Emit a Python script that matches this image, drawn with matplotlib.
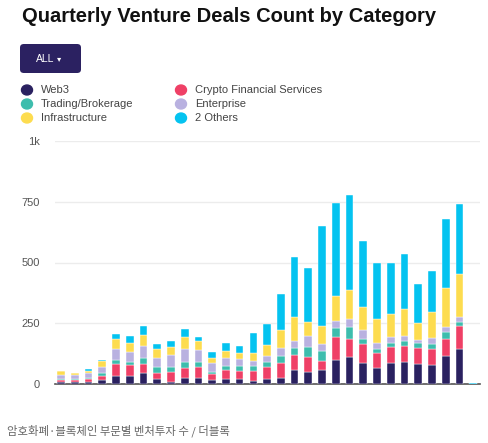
import numpy as np
import matplotlib.pyplot as plt
from matplotlib.patches import FancyBboxPatch

plt.rcParams["font.family"] = ["Liberation Sans", "DejaVu Sans"]

# quarterly deal counts per category
web3 = [8, 8, 10, 15, 34, 34, 44, 19, 10, 23, 26, 15, 19, 19, 11, 21, 23, 58, 49, 57,
        100, 113, 87, 64, 87, 91, 82, 77, 115, 144, 0]
crypto_fin = [8, 7, 10, 16, 47, 43, 38, 25, 40, 41, 43, 26, 38, 33, 41, 48, 63, 62, 63, 37,
              92, 74, 76, 65, 67, 65, 67, 67, 71, 93, 0]
trading = [4, 4, 5, 16, 18, 12, 25, 25, 19, 25, 21, 10, 19, 22, 23, 21, 29, 30, 41, 43,
           37, 47, 24, 14, 16, 23, 19, 22, 27, 19, 0]
enterprise = [19, 19, 20, 22, 45, 43, 51, 38, 51, 55, 51, 36, 32, 29, 19, 26, 34, 25, 43, 28,
              30, 33, 35, 24, 25, 18, 12, 25, 23, 19, 0]
infra = [14, 8, 10, 25, 40, 38, 43, 37, 34, 48, 34, 22, 29, 26, 34, 43, 73, 99, 58, 74,
         102, 118, 96, 100, 93, 113, 69, 106, 159, 176, 0]
others = [2, 1, 8, 4, 22, 29, 36, 19, 22, 34, 18, 22, 30, 27, 82, 88, 147, 247, 222, 412,
          382, 393, 269, 231, 209, 223, 161, 169, 286, 290, 4]

series = [
    ("Web3", web3, "#2a2160"),
    ("Crypto Financial Services", crypto_fin, "#ef4066"),
    ("Trading/Brokerage", trading, "#3dbdad"),
    ("Enterprise", enterprise, "#b9b1e0"),
    ("Infrastructure", infra, "#fddc4f"),
    ("2 Others", others, "#04c3f0"),
]

fig = plt.figure(figsize=(4.89, 4.43), dpi=100)
ax = fig.add_axes([55 / 489, 59 / 443, 425 / 489, 243 / 443])

x = np.arange(len(web3))
bottom = np.zeros(len(web3))
for name, vals, col in series:
    vals = np.array(vals)
    ax.bar(x, vals, 0.56, bottom=bottom, color=col, edgecolor="#ffffff",
           linewidth=0.3, zorder=3)
    bottom += vals

ax.set_xlim(-0.44, 30.5)
ax.set_ylim(0, 1000)
ax.set_yticks([0, 250, 500, 750, 1000])
ax.set_yticklabels(["0", "250", "500", "750", "1k"])
ax.set_xticks([])
ax.grid(axis="y", color="#ececec", linewidth=1, zorder=0)
for s in ["top", "right", "left"]:
    ax.spines[s].set_visible(False)
ax.spines["bottom"].set_color("#555555")
ax.spines["bottom"].set_linewidth(1.2)
ax.tick_params(axis="y", length=0, pad=11, labelsize=8, labelcolor="#555555")

# title
fig.text(22 / 489, 1 - 17 / 443, "Quarterly Venture Deals Count by Category",
         fontsize=14.5, fontweight="bold", color="#111111", va="center", ha="left")

# ALL button
btn = FancyBboxPatch((20 / 489, 1 - 73 / 443), 61 / 489, 29 / 443,
                     boxstyle="round,pad=0,rounding_size=0.008",
                     transform=fig.transFigure, facecolor="#2b2161", edgecolor="none")
fig.patches.append(btn)
fig.text(45 / 489, 1 - 58.5 / 443, "ALL", fontsize=7.5, color="white",
         va="center", ha="center")
fig.text(59.5 / 489, 1 - 58.5 / 443, "▾", fontsize=6, color="white",
         va="center", ha="center", family="DejaVu Sans")

# legend
leg_pos = [(27, 90), (181, 90), (27, 104), (181, 104), (27, 118), (181, 118)]
for (name, vals, col), (lx, ly) in zip(series, leg_pos):
    dot = plt.Circle((lx / 489, 1 - ly / 443), 5.5 / 489, color=col)
    dot.set_transform(fig.transFigure)
    fig.patches.append(dot)
    fig.text((lx + 14) / 489, 1 - ly / 443, name, fontsize=8, color="#444444",
             va="center", ha="left")

# source caption
fig.text(7 / 489, 1 - 431 / 443, "암호화폐·블록체인 부문별 벤처투자 수 / 더블록",
         fontsize=8.2, color="#666666", va="center", ha="left",
         family=["Noto Sans CJK KR", "DejaVu Sans"])

fig.savefig("out.png", dpi=100)
